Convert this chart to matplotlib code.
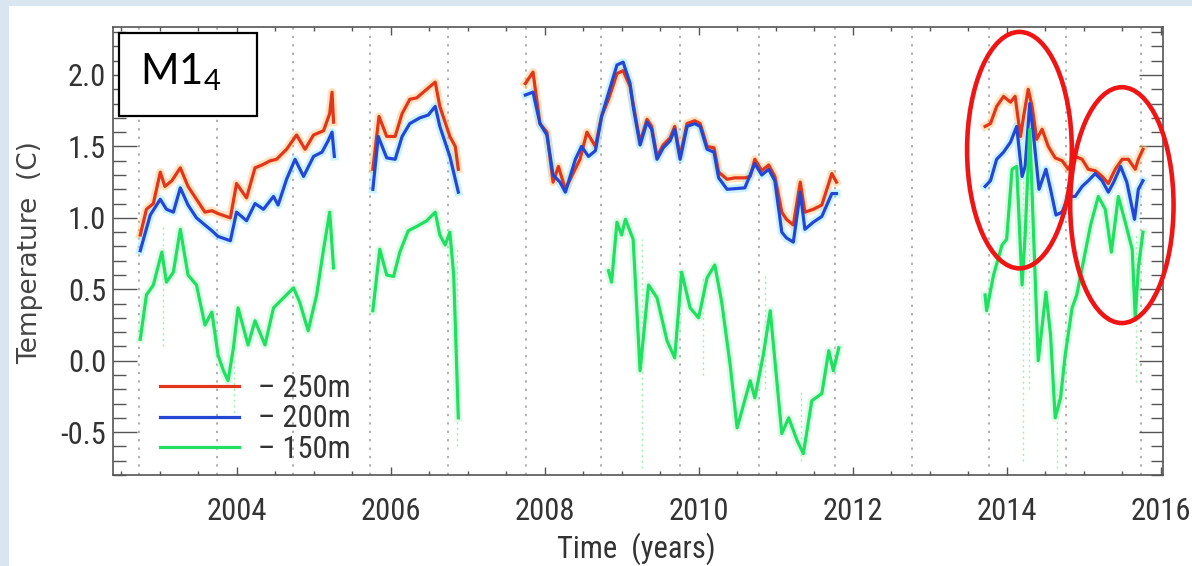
import numpy as np
import matplotlib.pyplot as plt
from matplotlib import font_manager
from matplotlib.patches import Rectangle, Ellipse
from matplotlib.ticker import MultipleLocator

plt.rcParams['mathtext.fontset'] = 'custom'
plt.rcParams['mathtext.rm'] = 'Lato'

# pick a narrow face for the IDL-style labels if there is one
installed = {f.name for f in font_manager.fontManager.ttflist}
narrow = 'Liberation Sans'
for name in ['Liberation Sans Narrow', 'DejaVu Sans Condensed', 'Roboto Condensed']:
    if name in installed:
        narrow = name
        break
tick_size = 22 if narrow != 'Liberation Sans' else 17

nan = np.nan

# 250m series (segments separated by nan)
t250 = [2002.75, 2002.83, 2002.92, 2003.01, 2003.07, 2003.16, 2003.27, 2003.37, 2003.48, 2003.59,
        2003.68, 2003.76, 2003.92, 2004.00, 2004.13, 2004.24, 2004.33, 2004.44, 2004.52, 2004.65,
        2004.78, 2004.89, 2005.00, 2005.13, 2005.21, 2005.24, 2005.26, nan,
        2005.77, 2005.85, 2005.95, 2006.06, 2006.15, 2006.25, 2006.34, 2006.47, 2006.58, 2006.64,
        2006.77, 2006.84, 2006.88, nan,
        2007.75, 2007.85, 2007.94, 2008.03, 2008.11, 2008.18, 2008.27, 2008.35, 2008.46, 2008.55,
        2008.66, 2008.74, 2008.83, 2008.94, 2009.02, 2009.11, 2009.15, 2009.24, 2009.33, 2009.39,
        2009.46, 2009.54, 2009.63, 2009.69, 2009.76, 2009.85, 2009.95, 2010.02, 2010.11, 2010.20,
        2010.26, 2010.37, 2010.47, 2010.60, 2010.67, 2010.73, 2010.82, 2010.91, 2010.99, 2011.08,
        2011.14, 2011.23, 2011.32, 2011.38, 2011.49, 2011.60, 2011.73, 2011.79, nan,
        2013.72, 2013.79, 2013.87, 2013.96, 2014.05, 2014.11, 2014.18, 2014.22, 2014.28, 2014.33,
        2014.39, 2014.46, 2014.54, 2014.63, 2014.72, 2014.80, 2014.89, 2014.98, 2015.06, 2015.15,
        2015.24, 2015.32, 2015.41, 2015.50, 2015.58, 2015.67, 2015.71, 2015.77]
v250 = [0.88, 1.06, 1.10, 1.32, 1.22, 1.26, 1.35, 1.22, 1.13, 1.04,
        1.05, 1.03, 1.00, 1.24, 1.14, 1.35, 1.37, 1.40, 1.41, 1.48,
        1.58, 1.48, 1.58, 1.61, 1.73, 1.88, 1.67, nan,
        1.34, 1.71, 1.57, 1.57, 1.73, 1.83, 1.84, 1.90, 1.95, 1.78,
        1.57, 1.50, 1.34, nan,
        1.94, 2.02, 1.66, 1.60, 1.25, 1.36, 1.20, 1.29, 1.41, 1.60,
        1.50, 1.71, 1.83, 2.01, 2.03, 1.92, 1.80, 1.53, 1.69, 1.64,
        1.43, 1.51, 1.56, 1.64, 1.43, 1.66, 1.68, 1.66, 1.50, 1.49,
        1.32, 1.27, 1.28, 1.28, 1.29, 1.41, 1.33, 1.37, 1.29, 1.04,
        0.99, 0.95, 1.25, 1.04, 1.06, 1.09, 1.31, 1.25, nan,
        1.64, 1.66, 1.78, 1.85, 1.81, 1.85, 1.57, 1.71, 1.90, 1.78,
        1.55, 1.62, 1.50, 1.42, 1.40, 1.34, 1.43, 1.41, 1.34, 1.33,
        1.29, 1.24, 1.34, 1.41, 1.41, 1.34, 1.41, 1.48]

# 200m series
t200 = [2002.75, 2002.88, 2003.01, 2003.09, 2003.18, 2003.27, 2003.37, 2003.48, 2003.59, 2003.68,
        2003.76, 2003.92, 2004.00, 2004.13, 2004.24, 2004.35, 2004.48, 2004.54, 2004.65, 2004.76,
        2004.87, 2005.00, 2005.11, 2005.19, 2005.24, 2005.27, nan,
        2005.77, 2005.84, 2005.95, 2006.06, 2006.15, 2006.25, 2006.38, 2006.49, 2006.58, 2006.64,
        2006.77, 2006.88, nan,
        2007.75, 2007.85, 2007.94, 2008.03, 2008.11, 2008.20, 2008.27, 2008.40, 2008.48, 2008.57,
        2008.66, 2008.74, 2008.94, 2009.02, 2009.11, 2009.15, 2009.24, 2009.33, 2009.39, 2009.46,
        2009.54, 2009.63, 2009.69, 2009.76, 2009.85, 2009.95, 2010.02, 2010.11, 2010.20, 2010.26,
        2010.37, 2010.60, 2010.73, 2010.82, 2010.91, 2010.99, 2011.08, 2011.14, 2011.23, 2011.32,
        2011.38, 2011.49, 2011.60, 2011.73, 2011.79, nan,
        2013.72, 2013.79, 2013.87, 2013.96, 2014.05, 2014.13, 2014.20, 2014.24, 2014.30, 2014.35,
        2014.42, 2014.51, 2014.57, 2014.64, 2014.72, 2014.80, 2014.89, 2014.98, 2015.06, 2015.15,
        2015.24, 2015.32, 2015.39, 2015.48, 2015.56, 2015.66, 2015.71, 2015.77]
v200 = [0.77, 1.02, 1.13, 1.06, 1.04, 1.21, 1.09, 1.00, 0.95, 0.91,
        0.87, 0.84, 1.04, 0.98, 1.10, 1.06, 1.15, 1.09, 1.27, 1.41,
        1.29, 1.43, 1.46, 1.54, 1.60, 1.43, nan,
        1.20, 1.57, 1.42, 1.41, 1.57, 1.66, 1.70, 1.72, 1.78, 1.64,
        1.43, 1.18, nan,
        1.86, 1.88, 1.66, 1.58, 1.30, 1.25, 1.18, 1.41, 1.50, 1.43,
        1.47, 1.71, 2.07, 2.09, 1.94, 1.78, 1.51, 1.67, 1.62, 1.41,
        1.49, 1.54, 1.62, 1.41, 1.64, 1.66, 1.64, 1.48, 1.46, 1.28,
        1.20, 1.21, 1.38, 1.30, 1.34, 1.26, 0.90, 0.86, 0.83, 1.18,
        0.92, 0.97, 1.01, 1.17, 1.17, nan,
        1.22, 1.26, 1.41, 1.46, 1.53, 1.64, 1.29, 1.36, 1.80, 1.57,
        1.20, 1.34, 1.20, 1.02, 1.04, 1.15, 1.15, 1.22, 1.26, 1.31,
        1.26, 1.18, 1.25, 1.36, 1.25, 0.99, 1.20, 1.26]

# 150m series
t150 = [2002.75, 2002.83, 2002.92, 2003.03, 2003.09, 2003.18, 2003.27, 2003.37, 2003.48, 2003.59,
        2003.68, 2003.76, 2003.83, 2003.89, 2003.96, 2004.02, 2004.15, 2004.24, 2004.37, 2004.48,
        2004.61, 2004.74, 2004.82, 2004.93, 2005.04, 2005.13, 2005.21, 2005.26, nan,
        2005.77, 2005.86, 2005.95, 2006.04, 2006.12, 2006.23, 2006.34, 2006.47, 2006.58, 2006.64,
        2006.71, 2006.77, 2006.82, 2006.88, nan,
        2008.83, 2008.87, 2008.94, 2009.00, 2009.05, 2009.15, 2009.24, 2009.35, 2009.46, 2009.59,
        2009.69, 2009.78, 2009.89, 2010.00, 2010.11, 2010.21, 2010.30, 2010.41, 2010.50, 2010.67,
        2010.73, 2010.84, 2010.93, 2011.08, 2011.17, 2011.28, 2011.36, 2011.47, 2011.60, 2011.69,
        2011.75, 2011.82, nan,
        2013.72, 2013.74, 2013.83, 2013.94, 2014.00, 2014.07, 2014.13, 2014.20, 2014.24, 2014.30,
        2014.35, 2014.41, 2014.51, 2014.57, 2014.63, 2014.70, 2014.76, 2014.85, 2014.91, 2014.98,
        2015.09, 2015.19, 2015.28, 2015.36, 2015.45, 2015.54, 2015.63, 2015.67, 2015.71, 2015.77]
v150 = [0.15, 0.46, 0.53, 0.76, 0.55, 0.62, 0.92, 0.60, 0.53, 0.25,
        0.34, 0.04, -0.07, -0.14, 0.09, 0.37, 0.11, 0.28, 0.11, 0.37,
        0.44, 0.51, 0.41, 0.21, 0.46, 0.78, 1.04, 0.65, nan,
        0.35, 0.78, 0.60, 0.59, 0.76, 0.91, 0.94, 0.98, 1.04, 0.88,
        0.81, 0.90, 0.60, -0.40, nan,
        0.63, 0.55, 0.97, 0.88, 0.99, 0.85, -0.07, 0.53, 0.44, 0.14,
        0.02, 0.62, 0.37, 0.30, 0.58, 0.67, 0.41, -0.03, -0.47, -0.14,
        -0.26, 0.04, 0.35, -0.51, -0.40, -0.56, -0.65, -0.28, -0.23, 0.07,
        -0.07, 0.09, nan,
        0.46, 0.35, 0.60, 0.81, 0.85, 1.34, 1.36, 0.53, 0.88, 1.62,
        0.88, 0.00, 0.48, 0.18, -0.40, -0.26, 0.04, 0.37, 0.46, 0.65,
        0.95, 1.15, 1.06, 0.76, 1.15, 0.97, 0.78, 0.30, 0.65, 0.90]

# faint raw 150m spikes (year, low, high)
spike_years = [2003.05, 2003.97, 2006.86, 2009.27, 2010.06, 2010.86, 2011.33, 2014.21, 2014.29, 2014.66, 2015.68]
spike_low = [0.10, -0.40, -0.60, -0.75, -0.10, -0.20, -0.70, -0.70, -0.20, -0.75, -0.15]
spike_high = [0.95, 0.05, 0.80, 0.85, 0.60, 0.60, -0.20, 1.40, 1.70, -0.20, 0.90]

# mooring turnaround dates
deploy_lines = [2002.74, 2003.75, 2004.73, 2005.73, 2006.75, 2007.76, 2008.73, 2009.76,
                2010.78, 2011.77, 2012.77, 2013.77, 2014.77, 2015.75]

W, H = 1192, 566
fig = plt.figure(figsize=(W / 100, H / 100), dpi=100)
fig.patch.set_facecolor('#d9e5f1')
fig.add_artist(Rectangle((9 / W, 0), 1, 1 - 6 / H, transform=fig.transFigure,
                         facecolor='white', edgecolor='none', zorder=-5))

ax = fig.add_axes([113 / W, 1 - 475 / H, 1050 / W, 448 / H])
ax.set_xlim(2002.396, 2016.03)
ax.set_ylim(-0.80, 2.336)

for x in deploy_lines:
    ax.axvline(x, color='#9a9a9a', lw=1.1, ls=(0, (1.5, 4)), zorder=1)

ax.vlines(spike_years, spike_low, spike_high, colors='#9cf0b0', lw=1.0,
          linestyles=(0, (1.5, 2.5)), zorder=1.5)

series = [(t250, v250, '#e2361c', '#ffc070', '\u2013 250m'),
          (t200, v200, '#2446d4', '#8ae6ff', '\u2013 200m'),
          (t150, v150, '#1fe060', '#b8f5c8', '\u2013 150m')]
for t, v, c, halo, lab in series:
    ax.plot(t, v, color=halo, lw=6, alpha=0.45, solid_joinstyle='round', zorder=2)
for t, v, c, halo, lab in series:
    ax.plot(t, v, color=c, lw=2.3, solid_joinstyle='round', zorder=3, label=lab)

ax.add_patch(Ellipse((2014.166, 1.474), 1.36, 1.655, fill=False, edgecolor='#f01414',
                     lw=3.3, clip_on=False, zorder=6))
ax.add_patch(Ellipse((2015.496, 1.089), 1.342, 1.651, fill=False, edgecolor='#f01414',
                     lw=3.3, clip_on=False, zorder=6))

ax.xaxis.set_major_locator(MultipleLocator(2))
ax.xaxis.set_minor_locator(MultipleLocator(0.5))
ax.yaxis.set_major_locator(MultipleLocator(0.5))
ax.yaxis.set_minor_locator(MultipleLocator(0.1))
ax.tick_params(axis='both', which='both', direction='in', top=True, right=True,
               color='#555555', labelcolor='#333333')
ax.tick_params(axis='x', which='major', length=6, width=1, pad=16)
ax.tick_params(axis='x', which='minor', length=3, width=1)
ax.tick_params(axis='y', which='major', length=17, width=1, pad=5)
ax.tick_params(axis='y', which='minor', length=9, width=1)
ax.set_xticks([2004, 2006, 2008, 2010, 2012, 2014, 2016])
ax.set_xticklabels(['2004', '2006', '2008', '2010', '2012', '2014', '2016'])
ax.set_yticks([-0.5, 0.0, 0.5, 1.0, 1.5, 2.0])
ax.set_yticklabels(['-0.5', '0.0', '0.5', '1.0', '1.5', '2.0'])
for lab in ax.get_xticklabels() + ax.get_yticklabels():
    lab.set_family(narrow)
    lab.set_fontsize(tick_size)
for s in ax.spines.values():
    s.set_color('#555555')
    s.set_linewidth(1.2)

leg = ax.legend(loc='upper left', bbox_to_anchor=(0.0448, 0.226), frameon=False,
                borderpad=0, borderaxespad=0, handlelength=2.6, handletextpad=0.6,
                labelspacing=0.05, prop={'family': narrow, 'size': tick_size})
for txt in leg.get_texts():
    txt.set_color('#333333')

fig.text(30 / W, 1 - 253 / H, 'Temperature  (C)', rotation=90, ha='center', va='center',
         fontsize=19, color='#444444', family='DejaVu Sans')
fig.text(636 / W, 1 - 549 / H, 'Time  (years)', ha='center', va='center',
         fontsize=tick_size, color='#333333', family=narrow)

fig.add_artist(Rectangle((119 / W, 1 - 116 / H), 138 / W, 83 / H, transform=fig.transFigure,
                         facecolor='white', edgecolor='black', lw=1.6, zorder=10))
fig.text(140 / W, 1 - 84 / H, r'M1$_4$', fontsize=30, family='Lato', va='baseline',
         color='black', zorder=11)

fig.savefig('out.png', dpi=100, facecolor=fig.get_facecolor())
